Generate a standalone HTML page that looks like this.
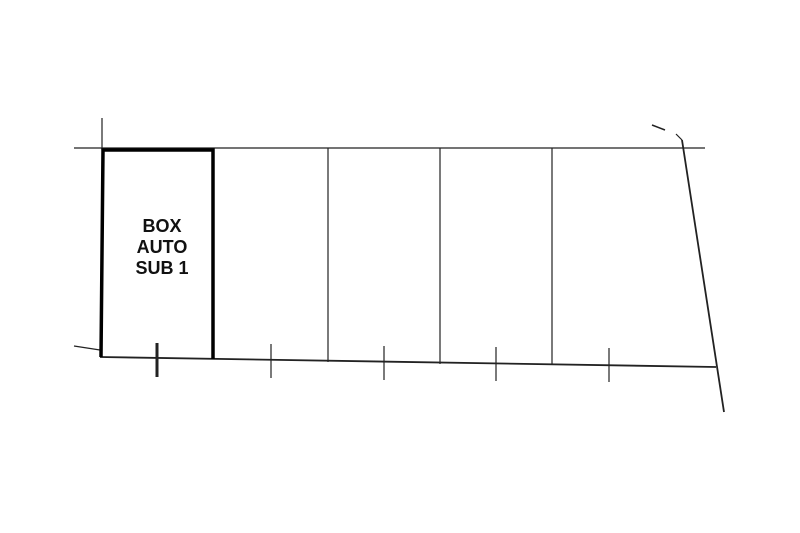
<!DOCTYPE html>
<html><head><style>
html,body{margin:0;padding:0;background:#fff;}
svg{display:block;}
</style></head><body>
<svg width="800" height="533" viewBox="0 0 800 533" xmlns="http://www.w3.org/2000/svg">
<rect width="800" height="533" fill="#fff"/>
<g stroke="#222" fill="none" stroke-linecap="butt">
<line x1="74" y1="148" x2="705" y2="148" stroke-width="1.3"/>
<line x1="102" y1="118" x2="102" y2="150" stroke-width="1.2"/>
<line x1="74" y1="346" x2="100" y2="350" stroke-width="1.2"/>
<line x1="100" y1="357" x2="716" y2="367" stroke-width="1.8"/>
<line x1="328" y1="148" x2="328" y2="362" stroke-width="1.2"/>
<line x1="440" y1="148" x2="440" y2="364" stroke-width="1.2"/>
<line x1="552" y1="148" x2="552" y2="365" stroke-width="1.2"/>
<line x1="682" y1="140" x2="724" y2="412" stroke-width="1.8"/>
<line x1="652" y1="125" x2="665" y2="130" stroke-width="1.5"/>
<line x1="676" y1="134" x2="682" y2="140" stroke-width="1.2"/>
<line x1="157" y1="343" x2="157" y2="377" stroke-width="3"/>
<line x1="271" y1="344" x2="271" y2="378" stroke-width="1.2"/>
<line x1="384" y1="346" x2="384" y2="380" stroke-width="1.2"/>
<line x1="496" y1="347" x2="496" y2="381" stroke-width="1.2"/>
<line x1="609" y1="348" x2="609" y2="382" stroke-width="1.2"/>
<path d="M101 357 L103 150 L213 150 L213 359" stroke="#000" stroke-width="3.5"/>
</g>
<g font-family="Liberation Sans, sans-serif" font-weight="bold" font-size="18" fill="#111" text-anchor="middle">
<text x="162" y="232">BOX</text>
<text x="162" y="253">AUTO</text>
<text x="162" y="274">SUB 1</text>
</g>
</svg>
</body></html>
